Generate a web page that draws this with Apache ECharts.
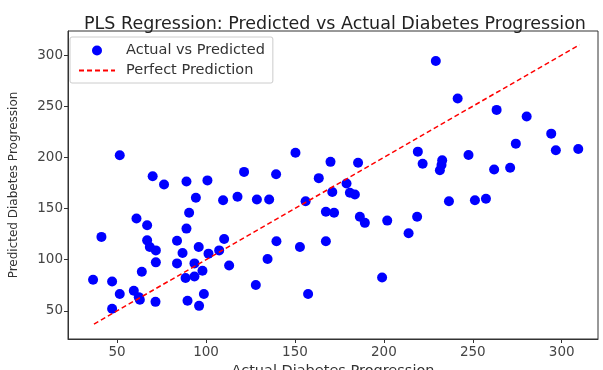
<!DOCTYPE html>
<html>
<head>
<meta charset="utf-8">
<script src="https://cdn.jsdelivr.net/npm/echarts@6/dist/echarts.min.js"></script>
<style>html,body{margin:0;padding:0;background:#fff;}#c{width:603px;height:370px;}</style>
</head>
<body>
<div id="c"></div>
<script>
const titleText = "PLS Regression: Predicted vs Actual Diabetes Progression";
const xName = "Actual Diabetes Progression";
const yName = "Predicted Diabetes Progression";
const seriesNames = ["Actual vs Predicted", "Perfect Prediction"];
const xTicks = [50, 100, 150, 200, 250, 300];
const yTicks = [50, 100, 150, 200, 250, 300];
const actual = [51.5,70,76.4,89,100.8,121.4,139.4,150.3,163.4,170,94.3,109.6,117.7,128.6,135.5,156,171,167.4,172,90.5,60.9,66.9,89,41.2,66.9,83.7,110.2,139.6,152.8,167.4,68.4,71.8,95.9,86.8,101.4,107.4,71.8,83.7,93.5,113,134.6,63.9,98,36.5,47.2,88.5,93.5,128,59.4,51.5,62.2,62.8,71.6,89.6,98.8,96.1,157.4,47.2,229.2,241.5,263.4,280.3,294.1,296.7,309.3,274.2,219.1,221.8,232.8,232.4,231.5,247.6,262,271,185.5,179,180.9,183.7,236.6,251.2,257.4,186.5,189.3,201.9,218.7,213.9,199];
const predicted = [202,181.5,173.5,176.5,177.5,185.8,183.5,204.6,179.7,195.6,160.5,158.1,161.5,158.8,158.8,157.2,166.2,146.8,145.8,145.8,140.2,133.6,130.4,122.3,118.9,118.6,120.3,118,112.4,118,112.4,109.1,112.4,106.5,105.9,109.1,97.4,96.4,96.4,94.4,100.7,88.2,89.2,80.4,78.7,82.1,83.6,75.2,69.6,66.4,63.4,60.8,58.8,59.8,66.4,54.9,66.4,52,294.1,257.5,246.4,239.9,223.2,206.9,208.1,213.4,205.6,193.8,197.1,192.5,187.5,202.3,188.2,189.9,194.8,174.5,165.4,163.7,157.2,158.1,159.5,141.9,136,138.2,141.9,125.8,82.6];
const perfectLine = [37, 310];

const scatterData = actual.map((v, i) => [v, predicted[i]]);
const lineData = perfectLine.map(v => [v, v]);

const chart = echarts.init(document.getElementById('c'), null, {renderer: 'canvas'});
const font = 'DejaVu Sans';
const axisCommon = {
  type: 'value',
  splitLine: {show: false},
  axisLine: {show: true, onZero: false, lineStyle: {color: '#333', width: 1}},
  axisTick: {show: true, length: 4, lineStyle: {color: '#333'}},
  axisLabel: {color: '#444', fontFamily: font, fontSize: 13.5, margin: 5},
};
chart.setOption({
  animation: false,
  backgroundColor: '#fff',
  title: {
    text: titleText, left: 330, top: 10, textAlign: 'center',
    textStyle: {fontFamily: font, fontSize: 17.5, fontWeight: 'normal', color: '#222'}
  },
  grid: {left: 68, right: 5, top: 31, bottom: 31, containLabel: false, outerBoundsMode: 'none',
         show: true, borderColor: '#333', borderWidth: 1},
  legend: {
    orient: 'vertical', left: 70, top: 37,
    padding: [6, 8, 5, 8], itemGap: 5, itemWidth: 36, itemHeight: 10,
    backgroundColor: '#fff', borderColor: '#ccc', borderWidth: 1, borderRadius: 2,
    textStyle: {fontFamily: font, fontSize: 14.5, color: '#333', padding: [0, 0, 0, 6]},
    data: [
      {name: seriesNames[0], icon: 'circle'},
      {name: seriesNames[1], itemStyle: {opacity: 0}}
    ]
  },
  xAxis: Object.assign({}, axisCommon, {
    min: 22.4, max: 320.4,
    name: xName, nameLocation: 'middle', nameGap: 22,
    axisTick: Object.assign({}, axisCommon.axisTick, {customValues: xTicks}),
    axisLabel: Object.assign({}, axisCommon.axisLabel, {customValues: xTicks, margin: 6}),
    nameTextStyle: {color: '#333', fontFamily: font, fontSize: 14.5}
  }),
  yAxis: Object.assign({}, axisCommon, {
    min: 22.5, max: 323.5,
    name: yName, nameLocation: 'middle', nameGap: 48,
    axisTick: Object.assign({}, axisCommon.axisTick, {customValues: yTicks}),
    axisLabel: Object.assign({}, axisCommon.axisLabel, {customValues: yTicks}),
    nameTextStyle: {color: '#333', fontFamily: font, fontSize: 12}
  }),
  series: [
    {
      name: seriesNames[0], type: 'scatter', data: scatterData,
      symbol: 'circle', symbolSize: 10,
      itemStyle: {color: '#0000ff', opacity: 1}, z: 2
    },
    {
      name: seriesNames[1], type: 'line', data: lineData,
      symbol: 'none', showSymbol: false,
      lineStyle: {color: '#ff0000', width: 1.5, type: [5, 3]},
      itemStyle: {color: '#ff0000'}, z: 3
    }
  ]
});
</script>
</body>
</html>
